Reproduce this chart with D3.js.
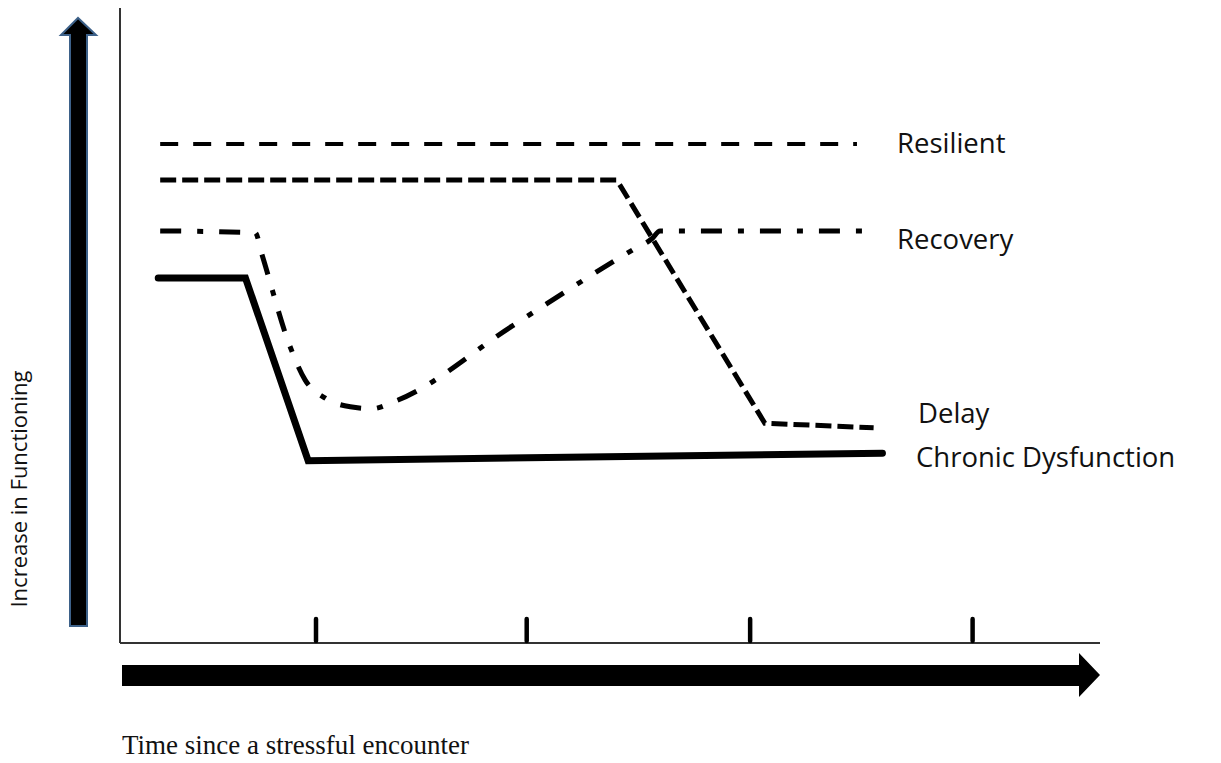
<!DOCTYPE html>
<html>
<head>
<meta charset="utf-8">
<script src="https://cdn.jsdelivr.net/npm/d3@7"></script>
<style>
  html, body { margin: 0; padding: 0; background: #fff; }
  svg { display: block; }
  .label { font-family: "Open Sans", sans-serif; font-size: 27.5px; fill: #111; }
  .y-title { font-family: "Open Sans", sans-serif; font-size: 22px; fill: #111; }
  .x-title { font-family: "Liberation Serif", "Times New Roman", serif; font-size: 27px; fill: #111; }
</style>
</head>
<body>
<svg id="chart" width="1221" height="763"></svg>
<script>
// conceptual trajectories (time 0-100, functioning 0-100)
const timeTicks = [20, 41.5, 64.3, 87];

const resilient = [[4.1, 78.6], [75.2, 78.6]];
const delay = [[4.1, 72.9], [50.7, 72.9], [65.8, 34.6], [76.9, 33.9]];
const recovery = [
  [4.1, 64.9], [13.8, 64.6], [14.5, 61.1], [17.3, 46.9], [18.9, 41.4],
  [20.9, 38.6], [23.5, 37.2], [25.7, 36.9], [28.1, 38.1], [40.0, 49.9],
  [52.3, 61.9], [54.3, 63.7], [55.1, 64.9], [76.3, 64.9]
];
const chronic = [[3.9, 57.5], [12.8, 57.5], [19.2, 28.7], [77.8, 29.9]];

const seriesNames = ['Resilient', 'Recovery', 'Delay', 'Chronic Dysfunction'];

const svg = d3.select('#chart');

const x = d3.scaleLinear().domain([0, 100]).range([120, 1100]);
const y = d3.scaleLinear().domain([0, 100]).range([643, 8]);

const line = d3.line().x(d => x(d[0])).y(d => y(d[1]));

// axes (plain L shape)
svg.append('line')
  .attr('x1', x(0)).attr('x2', x(0))
  .attr('y1', y(100)).attr('y2', y(0))
  .attr('stroke', '#333').attr('stroke-width', 2);
svg.append('line')
  .attr('x1', x(0)).attr('x2', x(100))
  .attr('y1', y(0)).attr('y2', y(0))
  .attr('stroke', '#333').attr('stroke-width', 2);

svg.append('g').selectAll('line')
  .data(timeTicks)
  .enter()
  .append('line')
  .attr('x1', d => x(d)).attr('x2', d => x(d))
  .attr('y1', y(0) - 24).attr('y2', y(0) - 2)
  .attr('stroke', '#000').attr('stroke-width', 4.5)
  .attr('stroke-linecap', 'round');

// trajectories
const series = [
  { name: 'Resilient', data: resilient, width: 4, dash: '18,15', cap: 'butt' },
  { name: 'Delay', data: delay, width: 5, dash: '16,6', cap: 'butt' },
  { name: 'Recovery', data: recovery, width: 5, dash: '21,16,6,16', cap: 'butt', curve: d3.curveMonotoneX },
  { name: 'Chronic Dysfunction', data: chronic, width: 7, dash: null, cap: 'round' }
];

svg.append('g').selectAll('path')
  .data(series)
  .enter()
  .append('path')
  .attr('d', d => (d.curve ? line.curve(d.curve) : line.curve(d3.curveLinear))(d.data))
  .attr('fill', 'none')
  .attr('stroke', '#000')
  .attr('stroke-width', d => d.width)
  .attr('stroke-dasharray', d => d.dash)
  .attr('stroke-linecap', d => d.cap)
  .attr('stroke-linejoin', 'miter');

// series labels
const labelPos = {
  'Resilient': [897, 153],
  'Recovery': [897, 249],
  'Delay': [918, 423],
  'Chronic Dysfunction': [916, 467]
};
svg.append('g').selectAll('text')
  .data(seriesNames)
  .enter()
  .append('text')
  .attr('class', 'label')
  .attr('x', d => labelPos[d][0])
  .attr('y', d => labelPos[d][1])
  .text(d => d);

// big block arrows
svg.append('path')
  .attr('d', 'M70,626 L70,35 L61,35 L78,18 L96,35 L87,35 L87,626 Z')
  .attr('fill', '#000')
  .attr('stroke', '#3d6189')
  .attr('stroke-width', 2)
  .attr('stroke-linejoin', 'miter');

svg.append('path')
  .attr('d', 'M122,665 L1079,665 L1079,653 L1100,675 L1079,697 L1079,686 L122,686 Z')
  .attr('fill', '#000');

// axis titles
svg.append('text')
  .attr('class', 'y-title')
  .attr('transform', 'translate(27,489) rotate(-90)')
  .attr('text-anchor', 'middle')
  .text('Increase in Functioning');

svg.append('text')
  .attr('class', 'x-title')
  .attr('x', 122)
  .attr('y', 754)
  .text('Time since a stressful encounter');
</script>
</body>
</html>
